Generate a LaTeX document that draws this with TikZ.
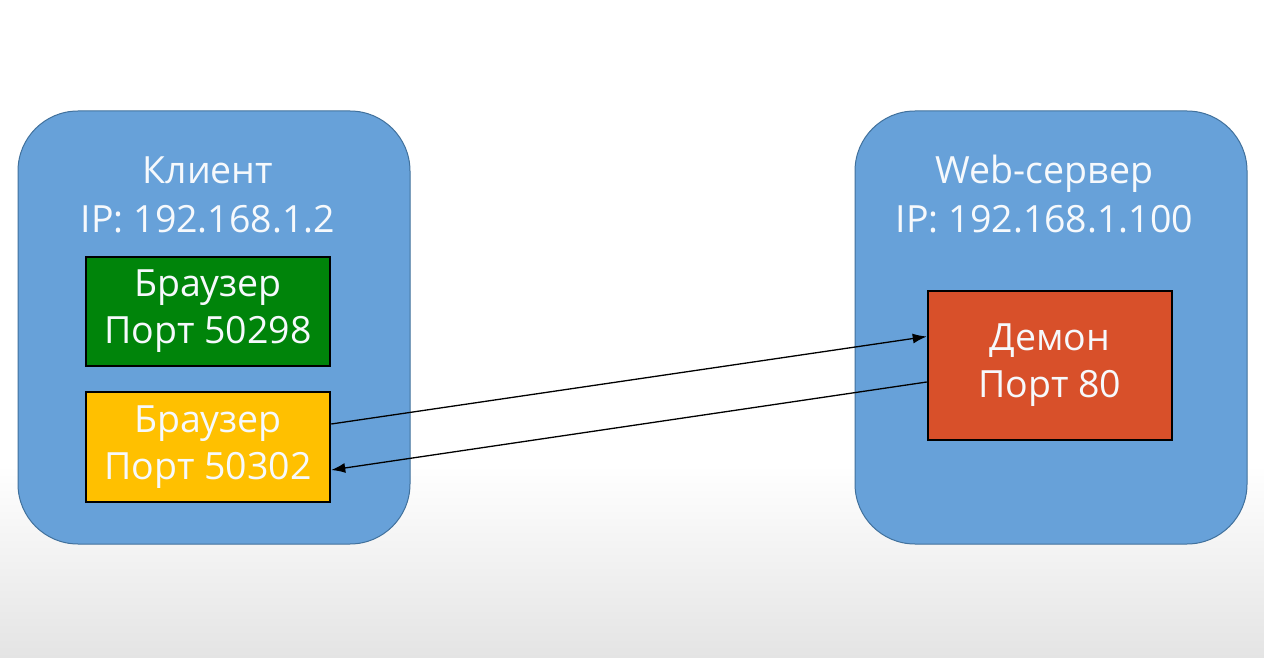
\documentclass[tikz,border=0pt]{standalone}
\usepackage{fontspec}
\setmainfont{Open Sans}
\usetikzlibrary{calc,arrows.meta}
\definecolor{boxblue}{RGB}{103,161,217}
\definecolor{boxedge}{RGB}{65,113,156}
\definecolor{pgreen}{RGB}{0,132,10}
\definecolor{pyellow}{RGB}{255,192,0}
\definecolor{pred}{RGB}{216,80,42}
\definecolor{txt}{RGB}{246,249,252}
\definecolor{bggray}{RGB}{228,228,228}
\tikzset{
  host/.style={draw=boxedge, fill=boxblue, line width=1pt, rounded corners=60pt,
    minimum width=392pt, minimum height=433pt, inner sep=0pt},
  title/.style={text=txt, font=\fontsize{37.5}{47}\selectfont, inner sep=0pt},
  proc/.style={draw=black, line width=2.5pt, text=txt, align=center,
    font=\fontsize{37.5}{47}\selectfont, minimum width=244pt, inner sep=0pt},
  arr/.style={line width=1.3pt, -{Latex[length=14pt,width=10pt]}}
}
\begin{document}
\begin{tikzpicture}[x=1pt,y=-1pt]
\useasboundingbox (0,0) rectangle (1264,658);
\fill[white] (0,0) rectangle (1264,658);
\shade[top color=white, bottom color=bggray] (0,465) rectangle (1264,658);

\node[host] (client) at (214,327.5) {};
\node[host] (server) at (1051,327.5) {};

\node[title, anchor=base] (clientname) at (208,183) {Клиент};
\node[title, anchor=base] (clientip) at (208,232) {IP: 192.168.1.2};
\node[title, anchor=base] (servername) at (1044.5,183) {Web-сервер};
\node[title, anchor=base] (serverip) at (1044.5,232) {IP: 192.168.1.100};

\node[proc, fill=pgreen, minimum height=109pt] (green) at (208,311.5) {Браузер\\Порт 50298};
\node[proc, fill=pyellow, minimum height=110pt] (yellow) at (208,447) {Браузер\\Порт 50302};
\node[proc, fill=pred, minimum height=149pt] (red) at (1050,365.5) {Демон\\Порт 80};

\draw[arr] ($(yellow.east)+(0,-23)$) -- ($(red.west)+(0,-29)$);
\draw[arr] ($(red.west)+(0,16.5)$) -- ($(yellow.east)+(0,23)$);
\end{tikzpicture}
\end{document}
